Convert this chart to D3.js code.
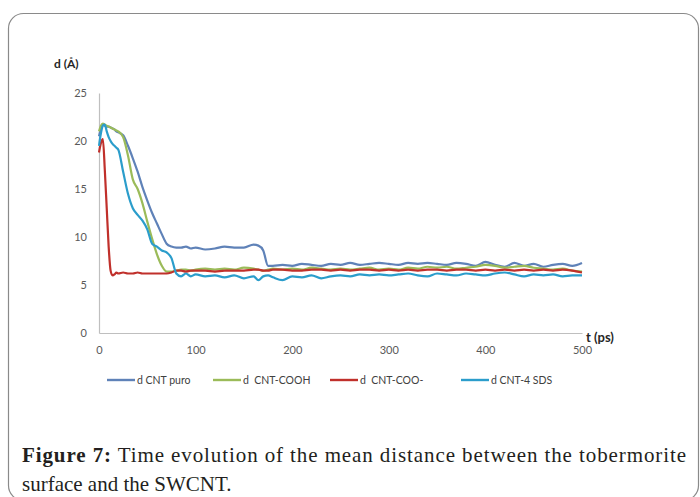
<!DOCTYPE html>
<html>
<head>
<meta charset="utf-8">
<script src="https://cdn.jsdelivr.net/npm/d3@7"></script>
<style>
  body { margin: 0; background: #fff; }
  svg { display: block; }
</style>
</head>
<body>
<div id="chart"></div>
<script>
// time (ps)
const times = [0,2,4,6,8,10,12,14,16,18,20,
  25,30,35,40,45,50,55,60,65,70,75,80,85,90,95,100,
  110,120,130,140,150,160,165,170,175,
  180,190,200,210,220,230,240,250,260,270,280,290,300,310,320,330,340,350,360,370,380,390,400,410,420,430,440,450,460,470,480,490,500];

// mean distance d (Å) per system
const puro = [20.5,21.3,21.7,21.6,21.5,21.5,21.4,21.3,21.2,21.0,20.9,
  20.6,19.5,18.2,16.8,15.2,13.8,12.5,11.4,10.3,9.3,9.0,8.9,8.9,9.0,8.8,8.9,
  8.7,8.8,9.0,8.9,8.9,9.2,9.1,8.6,7.0,
  7.0,7.1,7.0,7.2,7.1,7.0,7.2,7.1,7.3,7.1,7.2,7.3,7.2,7.1,7.3,7.2,7.3,7.2,7.1,7.3,7.2,7.0,7.4,7.1,6.9,7.3,7.0,7.2,6.9,7.1,7.2,7.0,7.3];
const cooh = [21.0,21.6,21.8,21.7,21.6,21.5,21.4,21.3,21.2,21.1,21.0,
  20.4,18.5,16.0,15.0,13.5,11.6,9.8,8.2,7.0,6.4,6.4,6.5,6.6,6.6,6.5,6.6,
  6.7,6.6,6.7,6.6,6.8,6.7,6.6,6.5,6.6,
  6.7,6.6,6.7,6.6,6.8,6.7,6.6,6.7,6.6,6.7,6.8,6.6,6.7,6.6,6.8,6.7,6.9,6.8,6.9,6.7,6.8,6.9,7.1,7.0,6.8,6.9,7.0,6.8,6.7,6.6,6.7,6.5,6.4];
const coo = [18.8,19.8,20.2,17.0,13.0,9.0,6.5,6.0,6.1,6.3,6.2,
  6.3,6.2,6.2,6.3,6.2,6.2,6.2,6.2,6.2,6.2,6.3,6.5,6.5,6.4,6.5,6.5,
  6.5,6.4,6.5,6.5,6.5,6.6,6.6,6.5,6.5,
  6.6,6.6,6.5,6.5,6.6,6.6,6.5,6.6,6.5,6.6,6.6,6.5,6.6,6.5,6.6,6.5,6.6,6.6,6.5,6.6,6.6,6.5,6.6,6.5,6.6,6.5,6.6,6.5,6.6,6.5,6.6,6.5,6.3];
const sds = [19.5,20.8,21.6,21.7,21.0,20.4,20.0,19.7,19.5,19.3,19.1,
  16.8,14.5,13.0,12.3,11.7,10.8,9.3,9.0,8.6,8.4,7.8,6.2,5.9,6.2,5.9,6.1,
  5.9,6.0,5.8,6.0,5.7,5.9,5.5,5.9,6.0,
  5.8,5.5,5.9,5.8,6.0,5.7,5.9,6.0,5.9,6.1,6.0,6.1,6.0,6.1,6.2,6.0,5.9,6.2,6.1,6.0,6.2,6.1,6.0,6.2,6.3,6.1,5.9,6.1,6.0,6.1,5.9,6.0,6.0];

const seriesNames = ["d CNT puro", "d  CNT-COOH", "d  CNT-COO-", "d CNT-4 SDS"];
const seriesValues = [puro, cooh, coo, sds];
const colors = ["#5f82b8", "#9bbb59", "#c0302b", "#2b9dcb"];

const xTicks = [0, 100, 200, 300, 400, 500];
const yTicks = [0, 5, 10, 15, 20, 25];

const width = 700, height = 497;
const svg = d3.select("#chart").append("svg")
  .attr("width", width)
  .attr("height", height);

// frame
svg.append("rect")
  .attr("x", 8.5).attr("y", 13.5)
  .attr("width", 690).attr("height", 487)
  .attr("rx", 15).attr("ry", 15)
  .attr("fill", "none")
  .attr("stroke", "#8a8a8a")
  .attr("stroke-width", 1.2);

const x = d3.scaleLinear().domain([0, 500]).range([99, 582]);
const y = d3.scaleLinear().domain([0, 25]).range([333, 93]);

const tickFont = "Lato, 'Open Sans', sans-serif";

const yAxis = svg.append("g")
  .attr("transform", `translate(${x(0)},0)`)
  .call(d3.axisLeft(y).tickValues(yTicks).tickSize(0).tickPadding(12));
yAxis.select(".domain").attr("stroke", "#bfbfbf").attr("stroke-width", 1.2);
yAxis.selectAll("text").attr("fill", "#595959").attr("font-size", 11).attr("font-family", tickFont);

const xAxis = svg.append("g")
  .attr("transform", `translate(0,${y(0)})`)
  .call(d3.axisBottom(x).tickValues(xTicks).tickSize(0).tickPadding(13));
xAxis.select(".domain").attr("stroke", "#bfbfbf").attr("stroke-width", 1.2);
xAxis.selectAll("text").attr("fill", "#595959").attr("font-size", 11).attr("font-family", tickFont);

svg.append("text")
  .attr("x", 54).attr("y", 68)
  .attr("font-family", tickFont).attr("font-weight", "bold")
  .attr("font-size", 12).attr("fill", "#262626")
  .text("d (Å)");

svg.append("text")
  .attr("x", 586).attr("y", 342)
  .attr("font-family", tickFont).attr("font-weight", "bold")
  .attr("font-size", 13).attr("fill", "#262626")
  .text("t (ps)");

const line = d3.line()
  .x((d, i) => x(times[i]))
  .y(d => y(d))
  .curve(d3.curveMonotoneX);

svg.append("g").selectAll("path")
  .data(seriesValues)
  .join("path")
  .attr("d", line)
  .attr("fill", "none")
  .attr("stroke", (d, i) => colors[i])
  .attr("stroke-width", 2.2)
  .attr("stroke-linejoin", "round");

// legend
const legendX = [107, 213, 330, 461];
const legend = svg.append("g").selectAll("g")
  .data(seriesNames)
  .join("g")
  .attr("transform", (d, i) => `translate(${legendX[i]},380)`);
legend.append("line")
  .attr("x1", 0).attr("x2", 28)
  .attr("stroke", (d, i) => colors[i])
  .attr("stroke-width", 2.4);
legend.append("text")
  .attr("x", 30).attr("dy", "0.35em")
  .attr("font-family", tickFont).attr("font-size", 10.5)
  .attr("fill", "#404040")
  .style("white-space", "pre")
  .text(d => d);

// caption
const capFont = "'Liberation Serif', 'DejaVu Serif', serif";
const cap1 = svg.append("text")
  .attr("x", 22).attr("y", 462)
  .attr("font-family", capFont).attr("font-size", 21)
  .attr("fill", "#231f20")
  .attr("textLength", 664).attr("lengthAdjust", "spacing");
cap1.append("tspan").attr("font-weight", "bold").text("Figure 7:");
cap1.append("tspan").text(" Time evolution of the mean distance between the tobermorite");
svg.append("text")
  .attr("x", 22).attr("y", 491)
  .attr("font-family", capFont).attr("font-size", 21)
  .attr("fill", "#231f20")
  .text("surface and the SWCNT.");
</script>
</body>
</html>
